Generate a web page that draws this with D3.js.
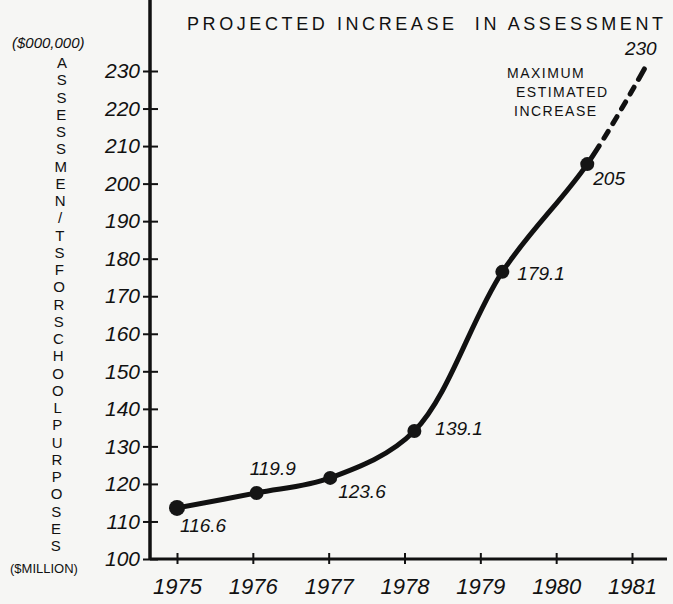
<!DOCTYPE html>
<html>
<head>
<meta charset="utf-8">
<script src="https://cdn.jsdelivr.net/npm/d3@7"></script>
<style>
  body { margin: 0; background: #f6f6f4; }
  svg { display: block; }
  text { fill: #111; font-family: "Liberation Sans", "DejaVu Sans", sans-serif; }
</style>
</head>
<body>
<div id="chart"></div>
<script>
// data
const years = [1975, 1976, 1977, 1978, 1979, 1980, 1981];
const yTicks = [100, 110, 120, 130, 140, 150, 160, 170, 180, 190, 200, 210, 220, 230];
// where the points were actually drawn (x is a bit past the tick for later years)
const pointYears = [1975, 1976.05, 1977.02, 1978.13, 1979.29, 1980.41, 1981.17];
const plotted = [113.6, 117.6, 121.6, 134.1, 176.5, 205.2, 230.8];
const pointLabels = ['116.6', '119.9', '123.6', '139.1', '179.1', '205', '230'];
const title = 'PROJECTED INCREASE  IN ASSESSMENT';
const yTitle = 'ASSESSMEN/TSFORSCHOOLPURPOSES';
const noteLines = ['MAXIMUM', 'ESTIMATED', 'INCREASE'];

const W = 673, H = 604;
// label offsets from the point, in px
const labelOffsets = [[3, 24], [-7, -18], [8, 20], [21, 4], [15, 8], [6, 21], [-20, -13]];

const svg = d3.select('#chart').append('svg')
  .attr('width', W)
  .attr('height', H);

const x = d3.scaleLinear().domain([1975, 1981]).range([177, 632]);
const y = d3.scaleLinear().domain([100, 230]).range([559, 71]);

// y axis, line runs all the way to the top
const yAxis = svg.append('g')
  .attr('transform', 'translate(150,0)')
  .call(d3.axisLeft(y).tickValues(yTicks).tickSize(0).tickPadding(10));
yAxis.select('.domain').remove();
yAxis.selectAll('.tick line').attr('x1', -7).attr('x2', 8)
  .attr('stroke', '#111').attr('stroke-width', 2);
yAxis.selectAll('.tick text')
  .attr('font-size', 21).attr('font-style', 'italic')
  .attr('font-family', '"Liberation Sans", sans-serif')
  .attr('fill', '#111');
svg.append('line')
  .attr('x1', 150).attr('x2', 150).attr('y1', 0).attr('y2', 560)
  .attr('stroke', '#111').attr('stroke-width', 3.5);

// x axis
const xAxis = svg.append('g')
  .attr('transform', 'translate(0,559)')
  .call(d3.axisBottom(x).tickValues(years).tickFormat(d3.format('d')).tickSize(0).tickPadding(19));
xAxis.select('.domain').remove();
xAxis.selectAll('.tick line').attr('y1', -6).attr('y2', 5)
  .attr('stroke', '#111').attr('stroke-width', 2);
xAxis.selectAll('.tick text')
  .attr('font-size', 22).attr('font-style', 'italic')
  .attr('font-family', '"Liberation Sans", sans-serif')
  .attr('fill', '#111');
svg.append('line')
  .attr('x1', 150).attr('x2', 667).attr('y1', 559).attr('y2', 559)
  .attr('stroke', '#111').attr('stroke-width', 3);

// curve: solid up to 1980, dashed to the 1981 estimate
const pts = pointYears.map((yr, i) => [x(yr), y(plotted[i])]);
const line = d3.line().curve(d3.curveCatmullRom.alpha(0.5));
const path = svg.append('path')
  .attr('d', line(pts))
  .attr('fill', 'none')
  .attr('stroke', '#111')
  .attr('stroke-width', 5)
  .attr('stroke-linecap', 'round');

const node = path.node();
const total = node.getTotalLength();
let best = 0, bestD = Infinity;
for (let l = 0; l <= total; l += 0.5) {
  const p = node.getPointAtLength(l);
  const d = Math.hypot(p.x - pts[5][0], p.y - pts[5][1]);
  if (d < bestD) { bestD = d; best = l; }
}
path.attr('stroke-dasharray', [best + 22, 9, 8, 9, 8, 9, 8, 9, 8, 9, 12, 1000].join(' '));

// dots
svg.selectAll('circle.pt')
  .data(pts.slice(0, 6))
  .join('circle')
  .attr('class', 'pt')
  .attr('cx', d => d[0])
  .attr('cy', d => d[1])
  .attr('r', (d, i) => i === 0 ? 8 : 7)
  .attr('fill', '#151515');

// value labels
svg.selectAll('text.val')
  .data(pointLabels)
  .join('text')
  .attr('class', 'val')
  .attr('x', (d, i) => pts[i][0] + labelOffsets[i][0])
  .attr('y', (d, i) => pts[i][1] + labelOffsets[i][1])
  .attr('font-size', 19)
  .attr('font-style', 'italic')
  .text(d => d);

// title
svg.append('text')
  .attr('x', 187).attr('y', 30)
  .attr('font-size', 18)
  .attr('textLength', 476)
  .attr('lengthAdjust', 'spacing')
  .style('white-space', 'pre')
  .text(title);

// note for the dashed part
svg.selectAll('text.note')
  .data(noteLines)
  .join('text')
  .attr('class', 'note')
  .attr('x', (d, i) => [507, 516, 514][i])
  .attr('y', (d, i) => 78 + i * 19)
  .attr('font-size', 14)
  .attr('letter-spacing', 1.5)
  .text(d => d);

// y axis title, stacked letters
svg.selectAll('text.ylet')
  .data(yTitle.split(''))
  .join('text')
  .attr('class', 'ylet')
  .attr('x', (d, i) => 62 - i * 0.22)
  .attr('y', (d, i) => 68 + i * 17.25)
  .attr('text-anchor', 'middle')
  .attr('font-size', 15)
  .text(d => d);

svg.append('text')
  .attr('x', 12).attr('y', 48)
  .attr('font-size', 15)
  .attr('font-style', 'italic')
  .text('($000,000)');

svg.append('text')
  .attr('x', 10).attr('y', 573)
  .attr('font-size', 13)
  .text('($MILLION)');
</script>
</body>
</html>
